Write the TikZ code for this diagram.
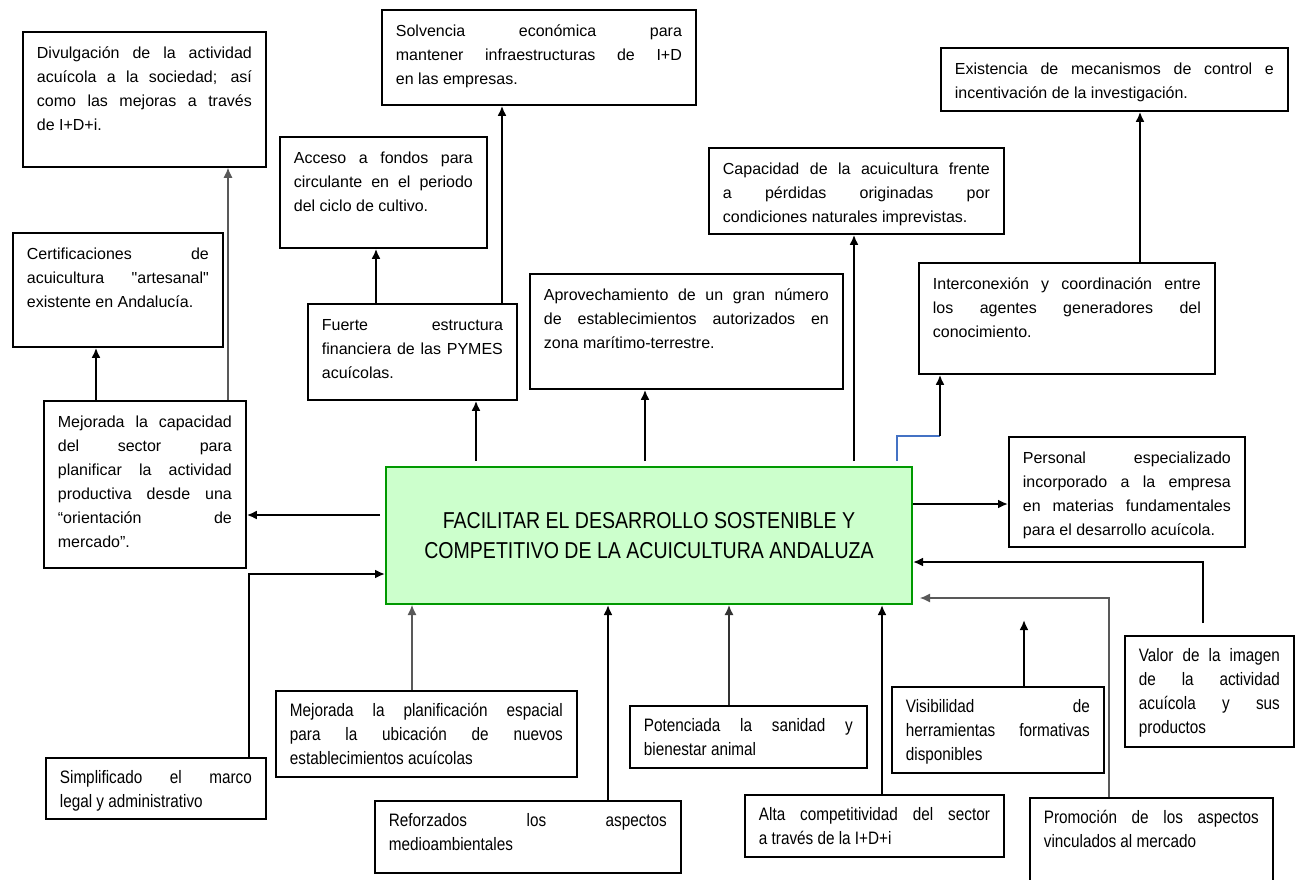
\documentclass[tikz,border=0pt]{standalone}
\usepackage{fontspec}
\setmainfont{Liberation Sans}
\newfontfamily\estrecha[FakeStretch=0.85]{Liberation Sans}
\usetikzlibrary{arrows.meta}
\definecolor{verdeborde}{RGB}{0,153,0}
\definecolor{verdefondo}{RGB}{204,255,204}
\definecolor{azul}{RGB}{68,114,196}
\hyphenpenalty=10000
\tolerance=9999

\tikzset{
  caja/.style={draw, line width=1.8pt, anchor=north west, align=justify,
    inner xsep=14pt, inner ysep=0pt, text height=27pt,
    font=\fontsize{16}{24}\selectfont},
  cajabaja/.style={caja, text height=26pt,
    font=\estrecha\fontsize{18}{24}\selectfont},
  principal/.style={draw=verdeborde, fill=verdefondo, line width=2pt,
    minimum width=526pt, minimum height=137pt, align=center,
    font=\estrecha\fontsize{23}{30}\selectfont},
  enlace/.style={->, line width=2pt},
  fino/.style={->, line width=1.1pt, draw=black!65},
  lineaazul/.style={line width=1.6pt, draw=azul},
}

\begin{document}
\begin{tikzpicture}[>={Latex[length=10pt,width=9pt]}, x=1pt, y=-1pt]
	\useasboundingbox (0,0) rectangle (1301,879);
	\clip (0,0) rectangle (1301,879);

	\node (centro)     at (649,535.5) [principal] {FACILITAR EL DESARROLLO SOSTENIBLE Y\\COMPETITIVO DE LA ACUICULTURA ANDALUZA};

	\node (divulg)     at (22,31)    [caja, text width=215pt, text depth=108pt] {Divulgación de la actividad\linebreak acuícola a la sociedad; así\linebreak como las mejoras a través\linebreak de I+D+i.};
	\node (certif)     at (12,232)   [caja, text width=182pt, text depth=87pt]  {Certificaciones de\linebreak acuicultura \textquotedbl artesanal\textquotedbl\linebreak existente en Andalucía.};
	\node (mejcap)     at (43,400)   [caja, text width=174pt, text depth=140pt] {Mejorada la capacidad\linebreak del sector para\linebreak planificar la actividad\linebreak productiva desde una\linebreak “orientación de\linebreak mercado”.};
	\node (acceso)     at (279,136)  [caja, text width=179pt, text depth=84pt]  {Acceso a fondos para\linebreak circulante en el periodo\linebreak del ciclo de cultivo.};
	\node (solvencia)  at (381,9)    [caja, text width=286pt, text depth=68pt]  {Solvencia económica para\linebreak mantener infraestructuras de I+D\linebreak en las empresas.};
	\node (fuerte)     at (307,303)  [caja, text width=181pt, text depth=69pt]  {Fuerte estructura\linebreak financiera de las PYMES\linebreak acuícolas.};
	\node (aprov)      at (529,273)  [caja, text width=285pt, text depth=88pt]  {Aprovechamiento de un gran número\linebreak de establecimientos autorizados en\linebreak zona marítimo-terrestre.};
	\node (capac)      at (708,147)  [caja, text width=267pt, text depth=59pt]  {Capacidad de la acuicultura frente\linebreak a pérdidas originadas por\linebreak condiciones naturales imprevistas.};
	\node (existencia) at (940,47)   [caja, text width=319pt, text depth=36pt]  {Existencia de mecanismos de control e\linebreak incentivación de la investigación.};
	\node (intercon)   at (918,262)  [caja, text width=268pt, text depth=84pt]  {Interconexión y coordinación entre\linebreak los agentes generadores del\linebreak conocimiento.};
	\node (personal)   at (1008,436) [caja, text width=208pt, text depth=83pt]  {Personal especializado\linebreak incorporado a la empresa\linebreak en materias fundamentales\linebreak para el desarrollo acuícola.};

	\node (simplif)    at (45,757)   [cajabaja, text width=192pt, text depth=35pt]  {Simplificado el marco\linebreak legal y administrativo};
	\node (mejplan)    at (275,690)  [cajabaja, text width=273pt, text depth=60pt]  {Mejorada la planificación espacial\linebreak para la ubicación de nuevos\linebreak establecimientos acuícolas};
	\node (reforz)     at (374,800)  [cajabaja, text width=278pt, text depth=46pt]  {Reforzados los aspectos\linebreak medioambientales};
	\node (potenc)     at (629,705)  [cajabaja, text width=209pt, text depth=36pt]  {Potenciada la sanidad y\linebreak bienestar animal};
	\node (alta)       at (744,794)  [cajabaja, text width=231pt, text depth=36pt]  {Alta competitividad del sector\linebreak a través de la I+D+i};
	\node (visib)      at (891,686)  [cajabaja, text width=184pt, text depth=60pt]  {Visibilidad de\linebreak herramientas formativas\linebreak disponibles};
	\node (valor)      at (1124,635) [cajabaja, text width=141pt, text depth=85pt]  {Valor de la imagen\linebreak de la actividad\linebreak acuícola y sus\linebreak productos};
	\node (promo)      at (1029,797) [cajabaja, text width=215pt, text depth=74pt]  {Promoción de los aspectos\linebreak vinculados al mercado};

	\coordinate (codo)     at (940,436);
	\coordinate (visfin)   at (1024,620);
	\coordinate (promofin) at (920,598);

	\draw [enlace, shorten <=5pt] (centro.north -| 476,0) -- (fuerte.south -| 476,0);
	\draw [enlace, shorten <=5pt] (centro.north -| 645,0) -- (aprov.south -| 645,0);
	\draw [enlace, shorten <=5pt] (centro.north -| 854,0) -- (capac.south -| 854,0);
	\draw [lineaazul, shorten <=5pt] (centro.north -| 897,0) |- (codo);
	\draw [enlace] (codo) -- (intercon.south -| codo);
	\draw [enlace] (fuerte.north -| 376,0) -- (acceso.south -| 376,0);
	\draw [enlace] (fuerte.north -| 502,0) -- (solvencia.south -| 502,0);
	\draw [enlace] (intercon.north -| 1140,0) -- (existencia.south -| 1140,0);

	\draw [enlace, shorten <=5pt] (centro.west |- 0,515) -- (mejcap.east |- 0,515);
	\draw [enlace] (mejcap.north -| 96,0) -- (certif.south -| 96,0);
	\draw [fino] (mejcap.north -| 228,0) -- (divulg.south -| 228,0);
	\draw [enlace] (simplif.north -| 249,0) |- (centro.west |- 0,574);
	\draw [enlace] (centro.east |- 0,504) -- (personal.west |- 0,504);

	\draw [fino] (mejplan.north -| 412,0) -- (centro.south -| 412,0);
	\draw [enlace] (reforz.north -| 608,0) -- (centro.south -| 608,0);
	\draw [enlace, line width=1.5pt, draw=black!80] (potenc.north -| 729,0) -- (centro.south -| 729,0);
	\draw [enlace] (alta.north -| 882,0) -- (centro.south -| 882,0);
	\draw [enlace] (visib.north -| visfin) -- (visfin);
	\draw [fino] (promo.north -| 1109,0) |- (promofin);
	\draw [enlace, shorten <=12pt] (valor.north -| 1203,0) |- (centro.east |- 0,562);
\end{tikzpicture}
\end{document}
